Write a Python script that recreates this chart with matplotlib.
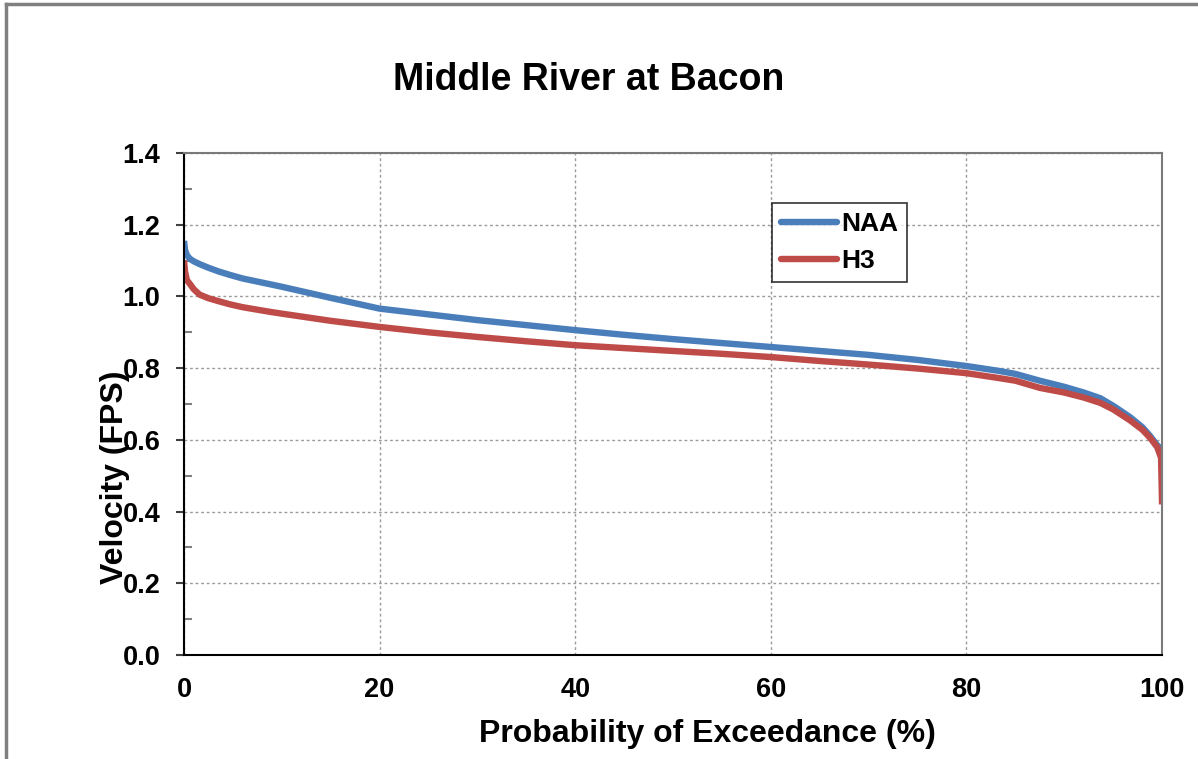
import numpy as np
import matplotlib.pyplot as plt
from matplotlib.lines import Line2D
from matplotlib.ticker import MultipleLocator

plt.rcParams['font.family'] = ['Liberation Sans', 'DejaVu Sans']

# probabilidade de excedencia (%)
prob = [0, 0.1, 0.3, 0.6, 1, 1.6, 2.5, 3.5, 4.7, 6, 8.8, 10, 15, 20, 25, 30, 35, 40,
        45, 50, 55, 60, 65, 70, 75, 80, 83.4, 85, 87.5, 90, 92, 93.7, 95, 96.7, 98,
        98.8, 99.5, 99.9, 100]
# velocidades (FPS)
naa = [1.155, 1.13, 1.115, 1.105, 1.098, 1.09, 1.08, 1.07, 1.06, 1.05, 1.034, 1.027,
       0.996, 0.966, 0.950, 0.934, 0.920, 0.906, 0.893, 0.881, 0.870, 0.859, 0.848,
       0.837, 0.823, 0.806, 0.792, 0.784, 0.765, 0.748, 0.732, 0.716, 0.695, 0.664,
       0.635, 0.61, 0.585, 0.575, 0.57]
h3 = [1.10, 1.07, 1.045, 1.035, 1.02, 1.005, 0.995, 0.987, 0.978, 0.970, 0.957, 0.952,
      0.932, 0.915, 0.900, 0.887, 0.875, 0.864, 0.856, 0.848, 0.840, 0.831, 0.820,
      0.810, 0.799, 0.786, 0.772, 0.765, 0.745, 0.732, 0.718, 0.703, 0.685, 0.655,
      0.628, 0.605, 0.58, 0.55, 0.42]

fig = plt.figure(figsize=(11.98, 7.59), dpi=100)
ax = fig.add_axes([0.1536, 0.137, 0.8164, 0.6614])

ax.plot(prob, naa, color='#4A7EBB', lw=4.6, label='NAA', solid_capstyle='butt')
ax.plot(prob, h3, color='#BE4B48', lw=4.6, label='H3', solid_capstyle='butt')

ax.set_xlim(0, 100)
ax.set_ylim(0, 1.4)
ax.xaxis.set_major_locator(MultipleLocator(20))
ax.yaxis.set_major_locator(MultipleLocator(0.2))
ax.yaxis.set_minor_locator(MultipleLocator(0.1))
ax.yaxis.set_major_formatter(plt.FormatStrFormatter('%.1f'))

ax.grid(True, which='major', color='#9a9a9a', ls=(0, (2, 2)), lw=1)
ax.tick_params(axis='x', length=0, pad=16, labelsize=19.5)
ax.tick_params(axis='y', which='major', direction='out', length=6, width=1.5,
               color='#404040', pad=11, labelsize=19.5)
ax.tick_params(axis='y', which='minor', direction='in', length=6, width=1.5,
               color='#808080')
for lab in ax.get_xticklabels() + ax.get_yticklabels():
    lab.set_fontweight('bold')

ax.spines['left'].set_color('black')
ax.spines['bottom'].set_color('black')
ax.spines['left'].set_linewidth(1.5)
ax.spines['bottom'].set_linewidth(1.5)
for s in ['top', 'right']:
    ax.spines[s].set_color('#7a7a7a')
    ax.spines[s].set_linestyle((0, (2, 1)))
    ax.spines[s].set_linewidth(1.5)

# no original o titulo do eixo y fica por cima dos numeros 0.8 e 0.6
ax.set_xlabel('Probability of Exceedance (%)', fontsize=23, fontweight='bold')
ax.xaxis.set_label_coords(0.535, -0.128)
ax.set_ylabel('Velocity (FPS)', fontsize=23, fontweight='bold')
ax.yaxis.set_label_coords(-0.055, 0.355)
fig.text(0.491, 0.895, 'Middle River at Bacon', fontsize=27, fontweight='bold',
         ha='center', va='center')

leg = ax.legend(loc='upper left', bbox_to_anchor=(0.601, 0.900), borderaxespad=0,
                frameon=True, fancybox=False, edgecolor='black', fontsize=19,
                handlelength=2.15, handletextpad=0.15, borderpad=0.33,
                labelspacing=0.5)
leg.get_frame().set_linewidth(1.2)
for t in leg.get_texts():
    t.set_fontweight('bold')
for h in leg.get_lines():
    h.set_solid_capstyle('round')

# moldura externa (so topo e esquerda aparecem)
fig.add_artist(Line2D([0.005, 1.0], [0.9947, 0.9947], color='#808080', lw=2.5))
fig.add_artist(Line2D([0.005, 0.005], [0.0, 0.9947], color='#808080', lw=2.5))

fig.savefig('out.png', dpi=100)
